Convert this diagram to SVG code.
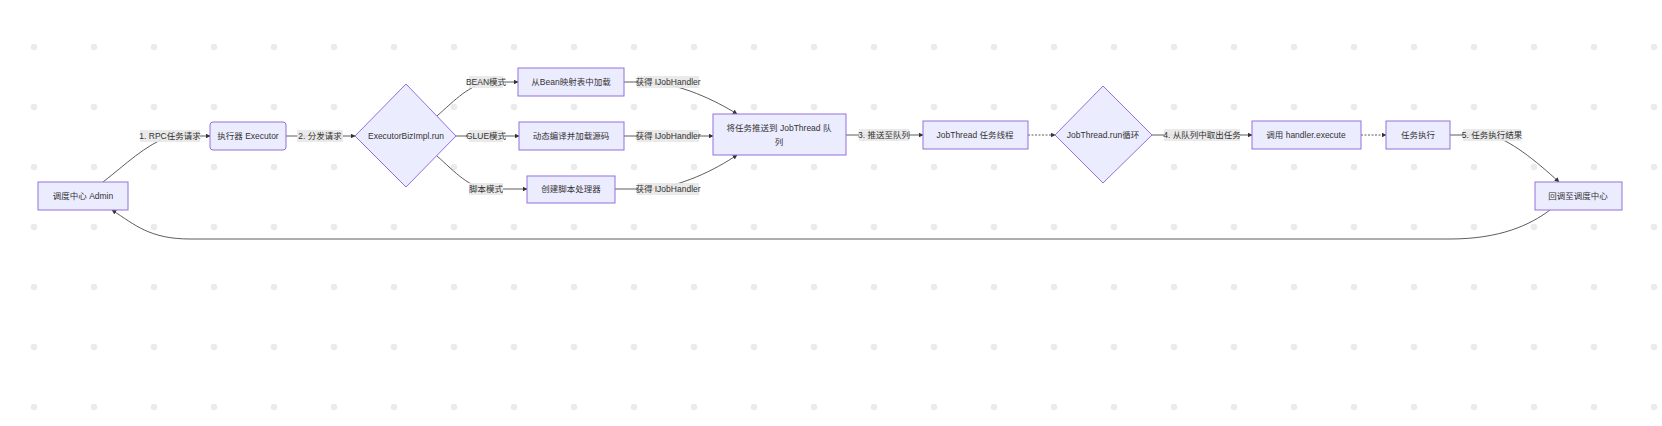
<svg xmlns="http://www.w3.org/2000/svg" width="1662" height="426" viewBox="0 0 1662 426">
<defs>
<pattern id="dots" x="4" y="17" width="60" height="60" patternUnits="userSpaceOnUse"><circle cx="30" cy="30" r="3.3" fill="#ebebeb"/></pattern>
<marker id="ah" viewBox="0 0 10 10" refX="9" refY="5" markerWidth="6" markerHeight="6" orient="auto"><path d="M0,0L10,5L0,10z" fill="#333"/></marker>
<style>
.n{fill:#ECECFF;stroke:#9370DB;stroke-width:1}
.t{font-family:"Liberation Sans","Noto Sans CJK SC",sans-serif;font-size:8.5px;fill:#333;text-anchor:middle;dominant-baseline:central}
.e{fill:none;stroke:#333;stroke-width:0.8;marker-end:url(#ah)}
.d{stroke-dasharray:2 1.5}
.lb{fill:#e8e8e8;opacity:0.9}
</style>
</defs>
<rect width="1662" height="426" fill="#fff"/>
<rect width="1662" height="426" fill="url(#dots)"/>
<g id="connectors">
<path class="e" d="M103,182 C125,165 145,145 170,136 L210,136"/>
<path class="e" d="M286,136 L355,136"/>
<path class="e" d="M437,116 C455,100 470,84 490,82 L518,82"/>
<path class="e" d="M456,136 L519,136"/>
<path class="e" d="M437,156 C455,172 470,189 490,189 L527,189"/>
<path class="e" d="M624,82 L650,82 C680,84 715,100 737,114"/>
<path class="e" d="M624,136 L713,136"/>
<path class="e" d="M615,189 L650,189 C680,187 715,170 737,155"/>
<path class="e" d="M846,135 L923,135"/>
<path class="e d" d="M1028,135 L1055,135"/>
<path class="e" d="M1152,135 L1252,135"/>
<path class="e d" d="M1361,135 L1386,135"/>
<path class="e" d="M1450,135 L1490,135 C1510,140 1535,160 1559,182"/>
<path class="e" d="M1550,210 C1530,225 1500,239 1450,239 L190,239 C150,239 135,225 112,210"/>
<rect class="lb" x="140" y="130" width="60" height="12"/><text class="t" x="170" y="136">1. RPC任务请求</text>
<rect class="lb" x="297" y="130" width="46" height="12"/><text class="t" x="320" y="136">2. 分发请求</text>
<rect class="lb" x="469" y="76" width="34" height="12"/><text class="t" x="486" y="82">BEAN模式</text>
<rect class="lb" x="469" y="130" width="34" height="12"/><text class="t" x="486" y="136">GLUE模式</text>
<rect class="lb" x="469" y="183" width="34" height="12"/><text class="t" x="486" y="189">脚本模式</text>
<rect class="lb" x="637" y="76" width="62" height="12"/><text class="t" x="668" y="82">获得 IJobHandler</text>
<rect class="lb" x="637" y="130" width="62" height="12"/><text class="t" x="668" y="136">获得 IJobHandler</text>
<rect class="lb" x="637" y="183" width="62" height="12"/><text class="t" x="668" y="189">获得 IJobHandler</text>
<rect class="lb" x="859" y="129" width="50" height="12"/><text class="t" x="884" y="135">3. 推送至队列</text>
<rect class="lb" x="1164" y="129" width="76" height="12"/><text class="t" x="1202" y="135">4. 从队列中取出任务</text>
<rect class="lb" x="1463" y="129" width="58" height="12"/><text class="t" x="1492" y="135">5. 任务执行结果</text>
</g>
<g id="admin"><rect class="n" x="38" y="182" width="90" height="28"/><text class="t" x="83" y="196">调度中心 Admin</text></g>
<g id="executor"><rect class="n" x="210" y="122" width="76" height="28" rx="3"/><text class="t" x="248" y="136">执行器 Executor</text></g>
<g id="bizimpl"><polygon class="n" points="406,84 456,136 406,187 355,136"/><text class="t" x="406" y="136">ExecutorBizImpl.run</text></g>
<g id="bean"><rect class="n" x="518" y="68" width="106" height="28"/><text class="t" x="571" y="82">从Bean映射表中加载</text></g>
<g id="glue"><rect class="n" x="519" y="122" width="105" height="28"/><text class="t" x="571" y="136">动态编译并加载源码</text></g>
<g id="script"><rect class="n" x="527" y="176" width="88" height="27"/><text class="t" x="571" y="189">创建脚本处理器</text></g>
<g id="push"><rect class="n" x="713" y="114" width="133" height="41"/><text class="t" x="779" y="128">将任务推送到 JobThread 队</text><text class="t" x="779" y="142">列</text></g>
<g id="jobthread"><rect class="n" x="923" y="121" width="105" height="28"/><text class="t" x="975" y="135">JobThread 任务线程</text></g>
<g id="runloop"><polygon class="n" points="1103,86 1152,135 1103,183 1055,135"/><text class="t" x="1103" y="135">JobThread.run循环</text></g>
<g id="handler"><rect class="n" x="1252" y="121" width="109" height="28"/><text class="t" x="1306" y="135">调用 handler.execute</text></g>
<g id="exec"><rect class="n" x="1386" y="121" width="64" height="28"/><text class="t" x="1418" y="135">任务执行</text></g>
<g id="callback"><rect class="n" x="1535" y="182" width="87" height="28"/><text class="t" x="1578" y="196">回调至调度中心</text></g>
</svg>
